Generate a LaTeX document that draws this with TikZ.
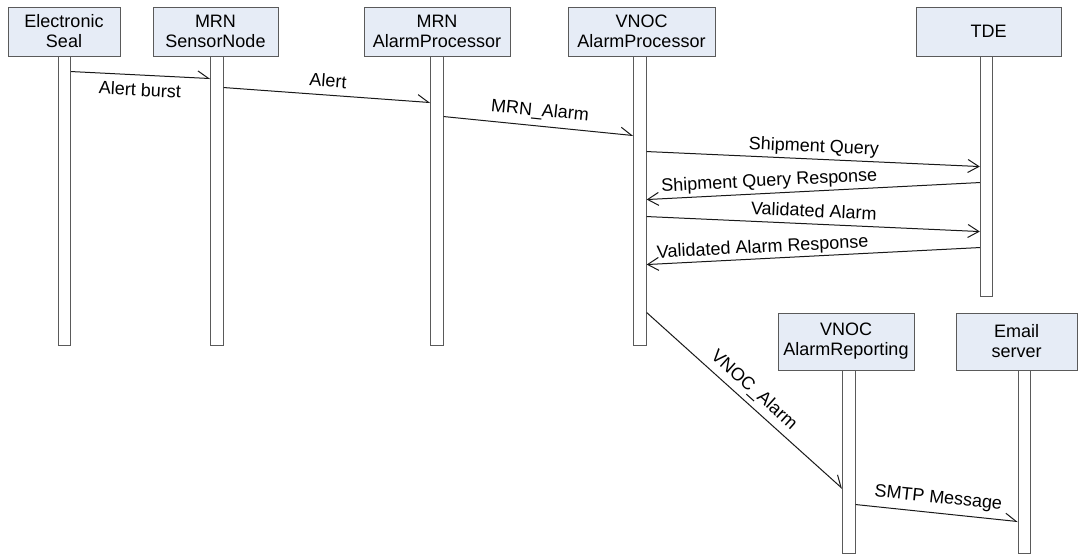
\documentclass[tikz,border=0pt]{standalone}
\usepackage{fontspec}
\setmainfont{Liberation Sans}
\usetikzlibrary{arrows.meta, positioning}
\definecolor{boxfill}{HTML}{E6ECF6}
\definecolor{boxline}{HTML}{5A5A5A}
\definecolor{lifeline}{HTML}{5A5A5A}
\tikzset{
  actor/.style={draw=boxline, line width=0.9pt, fill=boxfill, minimum height=49, align=center, inner sep=0pt},
  life/.style={draw=lifeline, line width=0.9pt, fill=white, minimum width=12.5, inner sep=0pt},
  msg/.style={line width=1pt, draw=black!90},
  async/.style={msg, -{Straight Barb[left,length=11pt,width=14pt]}},
  sync/.style={msg, -{Straight Barb[length=11pt,width=13pt]}},
  lbl/.style={sloped, inner sep=1pt, text height=12.5pt, text depth=3.5pt}
}
\begin{document}
\begin{tikzpicture}[x=1pt, y=-1pt, font=\fontsize{18}{20}\selectfont]
\useasboundingbox (0,0) rectangle (1079,556);

\node[actor, minimum width=112] (seal) at (64,31.5) {Electronic\\Seal};
\node[actor, minimum width=125] (sensor) at (215.5,31.5) {MRN\\SensorNode};
\node[actor, minimum width=146] (mrn) at (437,31.5) {MRN\\AlarmProcessor};
\node[actor, minimum width=147] (vnoc) at (641.5,31.5) {VNOC\\AlarmProcessor};
\node[actor, minimum width=145] (tde) at (988.5,31.5) {TDE};
\node[actor, minimum width=136, minimum height=57] (rep) at (846,341.5) {VNOC\\AlarmReporting};
\node[actor, minimum width=121, minimum height=57] (email) at (1016.5,341.5) {Email\\server};

\node[life, minimum height=289] (sealL) at (64.5,200.5) {};
\node[life, minimum height=289] (sensorL) at (217,200.5) {};
\node[life, minimum height=289] (mrnL) at (437,200.5) {};
\node[life, minimum height=289] (vnocL) at (640,200.5) {};
\node[life, minimum height=240] (tdeL) at (986.5,176) {};
\node[life, minimum height=183] (repL) at (849,461.5) {};
\node[life, minimum height=183] (emailL) at (1024.5,461.5) {};

\draw[async] ([yshift=-16]sealL.north east) -- node[lbl, below=7pt] {Alert burst} ([yshift=-23]sensorL.north west);
\draw[async] ([yshift=-32]sensorL.north east) -- node[lbl, above=3pt] {Alert} ([yshift=-47]mrnL.north west);
\draw[async] ([yshift=-61]mrnL.north east) -- node[lbl, above=5pt] {MRN\_Alarm} ([yshift=-80]vnocL.north west);

\draw[sync] ([yshift=-96]vnocL.north east) -- node[lbl, above=2pt] {Shipment Query} ([yshift=-111]tdeL.north west);
\draw[sync] ([yshift=-127]tdeL.north west) -- node[lbl, above=2pt, pos=0.63] {Shipment Query Response} ([yshift=-144]vnocL.north east);
\draw[sync] ([yshift=-161]vnocL.north east) -- node[lbl, above=2pt] {Validated Alarm} ([yshift=-176]tdeL.north west);
\draw[sync] ([yshift=-192]tdeL.north west) -- node[lbl, above=1pt, pos=0.65] {Validated Alarm Response} ([yshift=-209]vnocL.north east);

\draw[async] ([yshift=-257]vnocL.north east) -- node[lbl, above=4pt, pos=0.5] {VNOC\_Alarm} ([yshift=-119]repL.north west);
\draw[async] ([yshift=-135]repL.north east) -- node[lbl, above=5pt] {SMTP Message} ([yshift=-152]emailL.north west);
\end{tikzpicture}
\end{document}
